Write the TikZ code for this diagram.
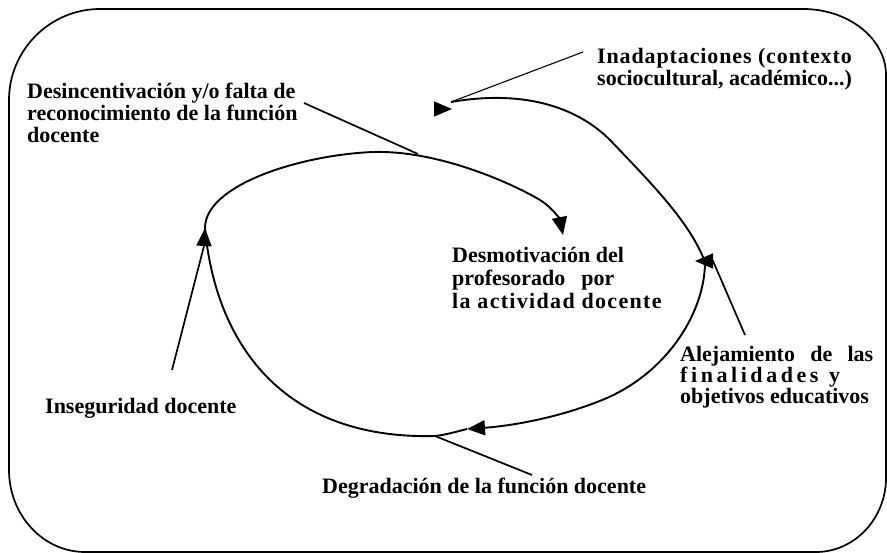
\documentclass[tikz,border=0pt]{standalone}
\usepackage{fontspec}
\setmainfont{Liberation Serif}
\usepackage{tikz}
\usetikzlibrary{arrows.meta}

\begin{document}
\begin{tikzpicture}[x=1pt, y=-1pt,
    frame_line/.style={line width=1.7pt,
        line join=round,
        },
    cycle_line/.style={line width=1.9pt,
        },
    pointer_line/.style={line width=1.7pt,
        },
    thin_pointer/.style={line width=1.1pt,
        },
    head_arrow/.style={-{Triangle[length=18pt, width=15pt]},
        },
    label_text/.style={anchor=north west,
        inner sep=0pt,
        align=left,
        font=\fontsize{22}{22}\selectfont\bfseries,
        },
    ]
    \useasboundingbox (0,0) rectangle (887,553);

    % frame
    \draw[frame_line] (9,100) .. controls (9,50) and (50,9) .. (100,9) -- (803,9)
        .. controls (849,9) and (886,39) .. (886,75) -- (886,478)
        .. controls (886,518) and (855,552) .. (816,552) -- (85,552)
        .. controls (43,552) and (9,515) .. (9,470) -- cycle;

    % labels
    \node[label_text] (desinc) at (27,83) {Desincentivación y/o falta de\\reconocimiento de la función\\docente};
    \node[label_text] (inadap) at (597,48) {{\addfontfeature{LetterSpace=4}Inadaptaciones (contexto}\\sociocultural, académico...)};
    \node[label_text, font=\fontsize{22}{23}\selectfont\bfseries] (desmot) at (452,247) {Desmotivación del\\profesorado\hspace{16pt}por\\{\addfontfeature{LetterSpace=6}la actividad docente}};
    \node[label_text, font=\fontsize{22}{21}\selectfont\bfseries] (alej) at (680,346) {\makebox[193pt][s]{Alejamiento de las}\\\makebox[160pt][s]{f\hfil i\hfil n\hfil a\hfil l\hfil i\hfil d\hfil a\hfil d\hfil e\hfil s\hskip 0pt plus 3fil y}\\objetivos educativos};
    \node[label_text] (inseg) at (45,398) {Inseguridad docente};
    \node[label_text] (degrad) at (322,478) {Degradación de la función docente};

    % junctions on the cycle
    \coordinate (top_join) at (205,228);
    \coordinate (desmot_tip) at (563,235);
    \coordinate (inadap_join) at (451,102);
    \coordinate (alej_join) at (705,262);
    \coordinate (degrad_tip) at (467,429);
    \coordinate (degrad_join) at (435,436);
    \coordinate (desinc_join) at (418,154);

    % pointer ends
    \coordinate (desinc_start) at (304,103);
    \coordinate (inadap_start) at (583,52);
    \coordinate (inadap_tail) at (434,109);
    \coordinate (inadap_tip) at (452,109);
    \coordinate (alej_start) at (745,335);
    \coordinate (alej_bend) at (713,261);
    \coordinate (alej_tip) at (695,261);
    \coordinate (inseg_start) at (172,370);
    \coordinate (inseg_bend) at (204,246);
    \coordinate (degrad_start) at (532,475);

    % cycle
    \draw[cycle_line, head_arrow] (top_join) .. controls (205,185) and (300,155) .. (373,152)
        .. controls (440,150) and (515,185) .. (540,200)
        .. controls (553,208) and (560,220) .. (desmot_tip);
    \draw[cycle_line] (inadap_join) .. controls (520,90) and (575,105) .. (610,140)
        .. controls (650,182) and (690,222) .. (alej_join);
    \draw[cycle_line, head_arrow] (alej_join) .. controls (705,310) and (670,370) .. (607,398)
        .. controls (560,418) and (510,426) .. (degrad_tip);
    \draw[cycle_line] (degrad_tip) .. controls (455,432) and (445,435) .. (degrad_join)
        .. controls (280,440) and (215,340) .. (top_join);

    % pointers
    \draw[pointer_line] (desinc_start) -- (desinc_join);
    \draw[thin_pointer] (inadap_start) -- (inadap_join);
    \draw[thin_pointer, head_arrow] (inadap_tail) -- (inadap_tip);
    \draw[pointer_line, head_arrow] (alej_start) -- (alej_bend) -- (alej_tip);
    \draw[pointer_line, head_arrow] (inseg_start) -- (inseg_bend) -- (top_join);
    \draw[pointer_line] (degrad_start) -- (degrad_join);

\end{tikzpicture}
\end{document}
